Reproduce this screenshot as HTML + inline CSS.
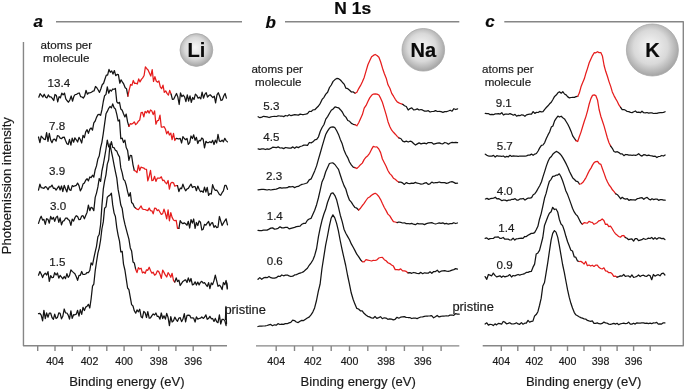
<!DOCTYPE html>
<html><head><meta charset="utf-8"><style>
html,body{margin:0;padding:0;background:#fff;}
body{width:685px;height:390px;overflow:hidden;}
svg{display:block;font-family:"Liberation Sans", sans-serif;will-change:transform;}
</style></head><body>
<svg width="685" height="390" viewBox="0 0 685 390">
<defs>
<radialGradient id="sg" cx="0.48" cy="0.46" r="0.55" fx="0.45" fy="0.42">
<stop offset="0" stop-color="#f6f6f6"/>
<stop offset="0.6" stop-color="#d9d9d9"/>
<stop offset="1" stop-color="#a2a2a2"/>
</radialGradient>
</defs>
<rect width="685" height="390" fill="#fff"/>

<g stroke="#868686" stroke-width="1.4" fill="none" stroke-linecap="butt">
<line x1="56" y1="21.8" x2="242" y2="21.8"/>
<line x1="285" y1="21.8" x2="459.3" y2="21.8"/>
<polyline points="504.3,21.8 683.3,21.8 683.3,345.8 482.7,345.8" stroke-linejoin="round"/>
<polyline points="23.45,41.9 23.45,345.8 227,345.8" stroke-linejoin="round"/>

<line x1="37.7" y1="345.9" x2="37.7" y2="351"/>
<line x1="55.0" y1="345.9" x2="55.0" y2="351"/>
<line x1="72.3" y1="345.9" x2="72.3" y2="351"/>
<line x1="89.5" y1="345.9" x2="89.5" y2="351"/>
<line x1="106.8" y1="345.9" x2="106.8" y2="351"/>
<line x1="124.1" y1="345.9" x2="124.1" y2="351"/>
<line x1="141.4" y1="345.9" x2="141.4" y2="351"/>
<line x1="158.7" y1="345.9" x2="158.7" y2="351"/>
<line x1="175.9" y1="345.9" x2="175.9" y2="351"/>
<line x1="193.2" y1="345.9" x2="193.2" y2="351"/>
<line x1="210.5" y1="345.9" x2="210.5" y2="351"/>
<line x1="256" y1="345.9" x2="459.3" y2="345.9"/>
<line x1="276.2" y1="345.9" x2="276.2" y2="351"/>
<line x1="294.5" y1="345.9" x2="294.5" y2="351"/>
<line x1="312.8" y1="345.9" x2="312.8" y2="351"/>
<line x1="331.2" y1="345.9" x2="331.2" y2="351"/>
<line x1="349.5" y1="345.9" x2="349.5" y2="351"/>
<line x1="367.8" y1="345.9" x2="367.8" y2="351"/>
<line x1="386.1" y1="345.9" x2="386.1" y2="351"/>
<line x1="404.4" y1="345.9" x2="404.4" y2="351"/>
<line x1="422.8" y1="345.9" x2="422.8" y2="351"/>
<line x1="441.1" y1="345.9" x2="441.1" y2="351"/>
<line x1="501.3" y1="345.9" x2="501.3" y2="351"/>
<line x1="517.8" y1="345.9" x2="517.8" y2="351"/>
<line x1="534.4" y1="345.9" x2="534.4" y2="351"/>
<line x1="550.9" y1="345.9" x2="550.9" y2="351"/>
<line x1="567.5" y1="345.9" x2="567.5" y2="351"/>
<line x1="584.0" y1="345.9" x2="584.0" y2="351"/>
<line x1="600.5" y1="345.9" x2="600.5" y2="351"/>
<line x1="617.1" y1="345.9" x2="617.1" y2="351"/>
<line x1="633.6" y1="345.9" x2="633.6" y2="351"/>
<line x1="650.2" y1="345.9" x2="650.2" y2="351"/>
</g>
<g fill="none" stroke-width="1.25" stroke-linejoin="round" stroke-linecap="round">
<polyline points="38.8,97.2 40.1,93.7 41.5,95.3 42.9,97.0 44.2,94.2 45.6,97.1 46.9,97.9 48.3,94.9 49.6,96.9 51.0,96.8 52.3,98.3 53.7,100.5 55.0,94.5 56.4,95.5 57.7,101.9 59.1,96.6 60.4,97.8 61.8,93.1 63.1,94.8 64.5,93.1 65.8,98.9 67.2,100.8 68.5,102.2 69.8,100.0 71.2,96.0 72.5,101.2 73.9,96.4 75.2,94.5 76.6,94.3 77.9,93.4 79.3,93.0 80.6,96.6 82.0,97.0 83.3,98.1 84.7,95.9 86.0,90.3 87.4,94.2 88.7,92.8 90.1,92.8 91.4,92.2 92.8,91.2 94.1,90.8 95.5,86.5 96.8,87.7 98.2,90.0 99.5,92.4 100.9,88.7 102.2,84.7 103.6,83.3 104.9,79.2 106.3,75.1 107.6,75.2 109.0,69.4 110.3,72.3 111.7,70.9 113.0,74.1 114.4,70.6 115.7,75.7 117.1,74.4 118.4,74.6 119.8,83.2 121.1,79.8 122.5,82.2 123.8,84.2 125.2,87.8 126.5,88.7 127.9,96.1" stroke="#141414"/>
<polyline points="127.9,96.1 129.2,89.8 130.6,84.5 131.9,85.3 133.3,80.5 134.6,83.5 136.0,83.2 137.3,84.0 138.7,78.9 140.0,81.9 141.4,79.4 142.7,77.9 144.1,75.5 145.4,66.9 146.8,68.7 148.1,70.0 149.5,73.3 150.8,76.0 152.2,69.6 153.5,81.5 154.9,76.7 156.2,81.0 157.6,82.2 158.9,80.9 160.3,86.9 161.6,88.7 163.0,85.2 164.3,92.4 165.7,90.9 167.0,93.4 168.4,95.1 169.7,90.4 171.1,94.1" stroke="#e61c1c"/>
<polyline points="171.1,94.1 172.4,99.4 173.8,99.1 175.1,96.2 176.5,93.5 177.8,96.9 179.2,104.5 180.5,92.9 181.9,96.7 183.2,95.1 184.6,96.8 185.9,101.7 187.3,94.9 188.6,101.0 190.0,95.8 191.3,102.3 192.7,97.5 194.0,99.5 195.4,94.1 196.7,95.4 198.1,98.2 199.4,97.2 200.8,98.8 202.1,92.2 203.5,98.2 204.8,94.4 206.2,92.7 207.5,97.1 208.9,95.5 210.2,94.8 211.6,96.3 212.9,97.6 214.3,96.1 215.6,102.9 217.0,94.9 218.3,92.7 219.7,96.3 221.0,100.5 222.4,99.9 223.7,96.0 225.1,93.5 226.4,98.1" stroke="#141414"/>
<polyline points="38.5,137.0 39.9,142.6 41.2,136.1 42.6,137.6 43.9,139.2 45.3,139.6 46.6,132.7 48.0,141.4 49.3,133.3 50.7,140.1 52.0,142.7 53.4,139.3 54.7,139.2 56.1,141.2 57.4,135.7 58.8,136.0 60.1,138.1 61.5,138.7 62.8,137.3 64.2,137.1 65.5,140.4 66.9,143.7 68.2,144.5 69.5,139.4 70.9,145.1 72.2,138.1 73.6,142.2 74.9,137.8 76.3,139.8 77.6,142.0 79.0,137.4 80.3,139.5 81.7,143.0 83.0,135.4 84.4,137.6 85.7,131.8 87.1,129.7 88.4,133.4 89.8,129.3 91.1,128.0 92.5,130.2 93.8,122.8 95.2,121.0 96.5,117.4 97.9,114.7 99.2,114.4 100.6,115.3 101.9,109.9 103.3,101.5 104.6,95.7 106.0,94.4 107.3,86.8 108.7,93.2 110.0,89.9 111.4,91.1 112.7,89.0 114.1,89.3 115.4,88.4 116.8,101.9 118.1,103.2 119.5,102.3 120.8,109.0 122.2,110.3 123.5,113.7 124.9,116.9 126.2,114.1 127.6,121.9 128.9,126.4" stroke="#141414"/>
<polyline points="128.9,126.4 130.3,123.7 131.6,124.1 133.0,123.3 134.3,121.9 135.7,124.6 137.0,123.4 138.4,121.2 139.7,120.1 141.1,112.6 142.4,112.3 143.8,116.8 145.1,111.4 146.5,112.9 147.8,110.6 149.2,113.1 150.5,110.0 151.9,111.1 153.2,114.6 154.6,110.9 155.9,124.2 157.3,120.7 158.6,120.4 160.0,115.2 161.3,127.0 162.7,127.0 164.0,126.6 165.4,129.0 166.7,133.8 168.1,131.2 169.4,135.0 170.8,133.1 172.1,139.7 173.5,133.3 174.8,140.5 176.2,138.4" stroke="#e61c1c"/>
<polyline points="176.2,138.4 177.5,138.7 178.9,139.0 180.2,138.4 181.6,143.0 182.9,136.6 184.3,138.5 185.6,139.7 187.0,138.5 188.3,144.4 189.7,142.6 191.0,136.0 192.4,138.5 193.7,134.8 195.1,140.3 196.4,137.3 197.8,143.5 199.1,140.4 200.5,140.8 201.8,138.0 203.2,139.3 204.5,147.9 205.9,141.3 207.2,142.7 208.6,142.6 209.9,141.7 211.3,142.7 212.6,140.3 214.0,144.5 215.3,140.1 216.7,143.0 218.0,134.4 219.4,141.2 220.7,141.5 222.1,140.2 223.4,141.8 224.8,138.3 226.1,140.6 227.5,141.9" stroke="#141414"/>
<polyline points="38.5,190.1 39.9,184.2 41.2,187.7 42.6,187.9 43.9,188.4 45.3,186.6 46.6,187.3 48.0,189.7 49.3,186.9 50.7,186.9 52.0,185.1 53.4,188.3 54.7,188.1 56.1,190.1 57.4,188.1 58.8,186.1 60.1,190.0 61.5,186.0 62.8,191.5 64.2,185.3 65.5,188.8 66.9,191.9 68.2,185.4 69.5,189.7 70.9,190.4 72.2,185.6 73.6,186.5 74.9,185.8 76.3,185.3 77.6,183.1 79.0,185.6 80.3,190.9 81.7,188.4 83.0,184.1 84.4,183.1 85.7,180.2 87.1,178.7 88.4,180.9 89.8,177.0 91.1,177.6 92.5,175.2 93.8,177.2 95.2,169.7 96.5,165.9 97.9,158.9 99.2,156.1 100.6,147.7 101.9,142.3 103.3,133.3 104.6,123.9 106.0,113.8 107.3,111.4 108.7,108.3 110.0,106.5 111.4,107.9 112.7,103.9 114.1,107.8 115.4,108.9 116.8,114.4 118.1,120.9 119.5,119.9 120.8,138.7 122.2,138.2 123.5,142.5 124.9,140.1 126.2,147.5 127.6,150.4 128.9,160.3 130.3,155.4 131.6,155.5 133.0,164.8 134.3,170.5" stroke="#141414"/>
<polyline points="134.3,170.5 135.7,171.1 137.0,172.6 138.4,165.2 139.7,170.5 141.1,167.1 142.4,167.7 143.8,168.1 145.1,169.2 146.5,169.4 147.8,180.9 149.2,176.3 150.5,170.3 151.9,180.6 153.2,180.2 154.6,176.3 155.9,181.4 157.3,178.2 158.6,178.1 160.0,178.1 161.3,176.8 162.7,180.6 164.0,180.2 165.4,182.6 166.7,183.8 168.1,180.5 169.4,189.1 170.8,183.2 172.1,182.3 173.5,182.8 174.8,186.2 176.2,185.5 177.5,185.6" stroke="#e61c1c"/>
<polyline points="177.5,185.6 178.9,191.6 180.2,188.2 181.6,188.7 182.9,184.2 184.3,188.1 185.6,190.8 187.0,189.0 188.3,188.4 189.7,186.2 191.0,184.1 192.4,187.5 193.7,186.7 195.1,186.6 196.4,190.7 197.8,186.1 199.1,189.3 200.5,191.8 201.8,191.0 203.2,192.3 204.5,187.2 205.9,192.0 207.2,187.4 208.6,195.4 209.9,193.5 211.3,194.1 212.6,184.6 214.0,188.6 215.3,190.3 216.7,190.2 218.0,192.0 219.4,194.5 220.7,195.3 222.1,192.7 223.4,190.8 224.8,185.4 226.1,185.4 227.5,189.3" stroke="#141414"/>
<polyline points="38.5,223.4 39.9,219.1 41.2,216.2 42.6,220.1 43.9,219.4 45.3,224.3 46.6,218.7 48.0,219.4 49.3,223.2 50.7,216.4 52.0,219.3 53.4,217.3 54.7,221.4 56.1,217.4 57.4,216.2 58.8,222.4 60.1,217.9 61.5,224.8 62.8,221.3 64.2,220.6 65.5,218.2 66.9,218.0 68.2,219.5 69.5,220.5 70.9,225.3 72.2,219.2 73.6,221.0 74.9,217.7 76.3,215.7 77.6,216.5 79.0,219.7 80.3,219.4 81.7,216.1 83.0,215.7 84.4,218.8 85.7,215.5 87.1,212.2 88.4,205.1 89.8,210.7 91.1,207.3 92.5,208.1 93.8,210.6 95.2,197.4 96.5,193.1 97.9,186.9 99.2,178.5 100.6,181.4 101.9,171.0 103.3,164.5 104.6,157.2 106.0,149.0 107.3,140.1 108.7,146.9 110.0,146.6 111.4,141.7 112.7,147.3 114.1,147.7 115.4,150.2 116.8,151.1 118.1,154.6 119.5,156.8 120.8,167.9 122.2,172.9 123.5,179.3 124.9,180.9 126.2,185.2 127.6,191.7 128.9,196.3 130.3,192.6 131.6,202.5 133.0,203.8 134.3,206.9 135.7,208.3" stroke="#141414"/>
<polyline points="135.7,208.3 137.0,209.1 138.4,209.7 139.7,207.8 141.1,205.9 142.4,209.0 143.8,209.4 145.1,209.5 146.5,210.2 147.8,210.6 149.2,208.0 150.5,210.6 151.9,210.8 153.2,213.8 154.6,208.1 155.9,208.4 157.3,210.6 158.6,209.8 160.0,212.2 161.3,214.4 162.7,213.7 164.0,209.2 165.4,213.5 166.7,218.9 168.1,209.9 169.4,220.8 170.8,212.7 172.1,217.4 173.5,220.0 174.8,220.7 176.2,220.4 177.5,228.4 178.9,228.4" stroke="#e61c1c"/>
<polyline points="178.9,228.4 180.2,220.7 181.6,222.8 182.9,223.6 184.3,222.9 185.6,223.7 187.0,225.2 188.3,221.3 189.7,228.0 191.0,219.6 192.4,223.1 193.7,219.0 195.1,228.4 196.4,222.5 197.8,225.5 199.1,220.9 200.5,222.3 201.8,230.0 203.2,229.1 204.5,224.4 205.9,225.1 207.2,223.1 208.6,221.5 209.9,225.8 211.3,223.2 212.6,222.7 214.0,227.3 215.3,225.7 216.7,227.6 218.0,227.2 219.4,216.5 220.7,220.9 222.1,225.5 223.4,223.1 224.8,220.8 226.1,218.8 227.5,224.8" stroke="#141414"/>
<polyline points="38.5,275.2 39.9,271.6 41.2,274.0 42.6,277.6 43.9,274.6 45.3,273.2 46.6,275.0 48.0,271.7 49.3,281.3 50.7,275.7 52.0,277.6 53.4,277.3 54.7,272.7 56.1,275.0 57.4,273.0 58.8,278.2 60.1,275.4 61.5,277.1 62.8,278.9 64.2,276.5 65.5,278.6 66.9,273.7 68.2,277.4 69.5,275.7 70.9,269.8 72.2,271.4 73.6,272.6 74.9,273.8 76.3,276.7 77.6,280.3 79.0,275.3 80.3,275.3 81.7,271.5 83.0,274.5 84.4,274.4 85.7,274.0 87.1,272.5 88.4,272.7 89.8,270.5 91.1,262.8 92.5,265.0 93.8,258.3 95.2,251.8 96.5,246.3 97.9,236.7 99.2,234.5 100.6,224.5 101.9,205.9 103.3,189.1 104.6,181.1 106.0,174.6 107.3,164.1 108.7,159.8 110.0,144.0 111.4,151.5 112.7,157.6 114.1,165.2 115.4,171.6 116.8,178.1 118.1,189.4 119.5,196.9 120.8,205.1 122.2,208.6 123.5,217.8 124.9,224.2 126.2,229.2 127.6,234.4 128.9,239.1 130.3,247.9 131.6,250.9 133.0,261.9 134.3,262.9 135.7,269.4" stroke="#141414"/>
<polyline points="135.7,269.4 137.0,272.6 138.4,267.7 139.7,269.0 141.1,268.2 142.4,272.9 143.8,271.9 145.1,273.4 146.5,269.8 147.8,270.3 149.2,267.2 150.5,270.5 151.9,273.2 153.2,272.2 154.6,275.2 155.9,274.2 157.3,270.9 158.6,271.4 160.0,274.2 161.3,278.3 162.7,270.1 164.0,272.4 165.4,275.2 166.7,277.0 168.1,272.7 169.4,274.5 170.8,277.3 172.1,273.3 173.5,280.5 174.8,282.0" stroke="#e61c1c"/>
<polyline points="174.8,282.0 176.2,277.9 177.5,281.5 178.9,280.1 180.2,285.5 181.6,283.3 182.9,281.4 184.3,280.4 185.6,279.8 187.0,282.5 188.3,277.9 189.7,281.8 191.0,278.5 192.4,284.8 193.7,284.4 195.1,281.8 196.4,285.1 197.8,282.1 199.1,284.9 200.5,282.2 201.8,281.4 203.2,283.2 204.5,282.6 205.9,284.7 207.2,286.5 208.6,282.7 209.9,288.6 211.3,283.0 212.6,284.6 214.0,280.6 215.3,275.1 216.7,280.8 218.0,286.4 219.4,285.1 220.7,286.5 222.1,289.6 223.4,282.5 224.8,284.7 226.1,280.5 227.5,288.1" stroke="#141414"/>
<polyline points="38.5,313.7 39.9,313.4 41.2,315.2 42.6,320.9 43.9,310.3 45.3,318.6 46.6,312.9 48.0,317.2 49.3,313.1 50.7,313.2 52.0,317.5 53.4,319.3 54.7,314.2 56.1,318.5 57.4,317.6 58.8,312.8 60.1,313.4 61.5,318.8 62.8,316.3 64.2,309.0 65.5,312.9 66.9,313.0 68.2,315.1 69.5,319.1 70.9,310.9 72.2,318.3 73.6,314.7 74.9,314.8 76.3,314.1 77.6,310.3 79.0,316.2 80.3,309.6 81.7,314.4 83.0,307.3 84.4,310.5 85.7,307.1 87.1,306.2 88.4,304.3 89.8,308.0 91.1,299.0 92.5,286.2 93.8,284.2 95.2,270.8 96.5,262.0 97.9,253.2 99.2,248.1 100.6,240.0 101.9,229.0 103.3,221.9 104.6,208.3 106.0,206.9 107.3,197.2 108.7,195.9 110.0,195.1 111.4,193.2 112.7,204.9 114.1,213.1 115.4,216.5 116.8,227.8 118.1,235.1 119.5,241.1 120.8,251.9 122.2,251.3 123.5,264.1 124.9,270.0 126.2,278.7 127.6,288.0 128.9,289.7 130.3,297.3 131.6,304.6 133.0,306.0 134.3,310.8 135.7,313.2 137.0,309.9 138.4,311.8 139.7,309.2 141.1,316.7 142.4,317.8 143.8,311.4 145.1,312.6 146.5,317.5 147.8,311.7 149.2,318.2 150.5,317.8 151.9,315.6 153.2,314.0 154.6,315.0 155.9,313.0 157.3,316.4 158.6,316.4 160.0,319.1 161.3,313.0 162.7,318.5 164.0,315.8 165.4,319.1 166.7,313.4 168.1,317.5 169.4,325.6 170.8,316.7 172.1,322.0 173.5,320.8 174.8,317.1 176.2,319.6 177.5,321.3 178.9,318.0 180.2,317.7 181.6,321.6 182.9,319.3 184.3,313.6 185.6,321.8 187.0,315.3 188.3,315.2 189.7,315.4 191.0,318.0 192.4,317.8 193.7,318.2 195.1,322.0 196.4,316.8 197.8,319.1 199.1,318.5 200.5,318.2 201.8,316.9 203.2,318.4 204.5,317.3 205.9,314.9 207.2,319.3 208.6,318.4 209.9,316.3 211.3,318.8 212.6,318.5 214.0,321.4 215.3,318.4 216.7,321.7 218.0,322.7 219.4,314.9 220.7,324.0 222.1,319.3 223.4,319.4 224.8,320.6 226.1,325.6" stroke="#141414"/>
<polyline points="258.1,116.7 259.9,117.7 261.8,117.1 263.6,116.3 265.4,116.6 267.2,116.9 269.1,117.5 270.9,116.8 272.7,116.5 274.6,116.4 276.4,116.5 278.2,115.8 280.1,116.0 281.9,116.0 283.7,116.6 285.5,115.5 287.4,116.0 289.2,114.7 291.0,115.7 292.9,115.2 294.7,114.7 296.5,114.9 298.4,115.1 300.2,114.1 302.0,114.5 303.8,114.5 305.7,114.1 307.5,113.6 309.3,111.4 311.2,111.5 313.0,109.9 314.8,109.7 316.7,107.8 318.5,106.0 320.3,103.3 322.1,99.4 324.0,97.3 325.8,94.1 327.6,92.3 329.5,87.5 331.3,85.0 333.1,81.4 335.0,79.6 336.8,78.4 338.6,78.7 340.4,80.0 342.3,82.2 344.1,84.1 345.9,88.2 347.8,88.7 349.6,90.2 351.4,92.0 353.3,91.9 355.1,93.2" stroke="#141414"/>
<polyline points="355.1,93.2 356.9,92.3 358.7,88.6 360.6,85.4 362.4,81.7 364.2,77.4 366.1,70.9 367.9,64.8 369.7,60.8 371.6,56.8 373.4,55.4 375.2,54.5 377.0,55.5 378.9,57.2 380.7,62.0 382.5,68.2 384.4,73.7 386.2,78.2 388.0,84.8 389.9,88.3 391.7,93.4 393.5,96.2 395.3,99.3 397.2,101.9 399.0,102.9 400.8,103.7 402.7,104.3" stroke="#e61c1c"/>
<polyline points="402.7,104.3 404.5,105.7 406.3,106.5 408.2,110.0 410.0,108.6 411.8,107.8 413.6,109.9 415.5,109.6 417.3,108.9 419.1,110.0 421.0,109.5 422.8,110.2 424.6,111.1 426.5,111.1 428.3,110.7 430.1,112.0 431.9,111.5 433.8,111.3 435.6,110.6 437.4,111.5 439.3,111.4 441.1,111.7 442.9,112.3 444.8,111.6 446.6,111.6 448.4,111.0 450.2,110.2 452.1,111.2 453.9,108.7 455.7,109.5 457.6,108.8" stroke="#141414"/>
<polyline points="258.1,148.9 259.9,149.3 261.8,148.8 263.6,148.8 265.4,149.5 267.2,148.8 269.1,149.3 270.9,148.4 272.7,147.2 274.6,147.3 276.4,147.6 278.2,146.9 280.1,148.0 281.9,147.9 283.7,148.6 285.5,147.5 287.4,147.8 289.2,148.2 291.0,148.1 292.9,146.9 294.7,148.3 296.5,146.8 298.4,147.6 300.2,146.5 302.0,146.0 303.8,145.1 305.7,145.1 307.5,145.3 309.3,142.5 311.2,142.9 313.0,141.8 314.8,139.8 316.7,139.4 318.5,136.8 320.3,131.2 322.1,127.5 324.0,124.5 325.8,119.1 327.6,116.6 329.5,113.3 331.3,110.3 333.1,109.0 335.0,106.9 336.8,107.4 338.6,107.8 340.4,109.7 342.3,112.0 344.1,115.5 345.9,117.1 347.8,120.5 349.6,121.3 351.4,123.4 353.3,124.3 355.1,124.7" stroke="#141414"/>
<polyline points="355.1,124.7 356.9,125.8 358.7,122.7 360.6,118.5 362.4,114.6 364.2,108.2 366.1,105.4 367.9,101.5 369.7,97.9 371.6,95.3 373.4,94.1 375.2,93.8 377.0,94.1 378.9,95.0 380.7,98.4 382.5,102.6 384.4,108.9 386.2,114.9 388.0,121.7 389.9,126.8 391.7,130.2 393.5,132.3 395.3,134.2 397.2,136.4 399.0,138.0" stroke="#e61c1c"/>
<polyline points="399.0,138.0 400.8,138.5 402.7,141.2 404.5,141.9 406.3,141.2 408.2,142.0 410.0,141.2 411.8,141.7 413.6,143.5 415.5,145.0 417.3,143.9 419.1,142.9 421.0,143.9 422.8,143.3 424.6,143.2 426.5,143.8 428.3,142.5 430.1,142.5 431.9,142.7 433.8,144.2 435.6,143.6 437.4,143.1 439.3,142.9 441.1,143.6 442.9,143.8 444.8,142.5 446.6,143.0 448.4,144.2 450.2,143.0 452.1,142.3 453.9,142.6 455.7,142.4 457.6,142.7" stroke="#141414"/>
<polyline points="258.0,189.8 259.8,189.6 261.7,189.4 263.5,189.4 265.3,189.6 267.1,190.0 269.0,189.5 270.8,190.0 272.6,189.6 274.5,189.3 276.3,189.1 278.1,188.4 280.0,187.6 281.8,188.2 283.6,187.8 285.4,187.8 287.3,187.7 289.1,186.6 290.9,186.9 292.8,186.5 294.6,187.6 296.4,186.7 298.3,186.4 300.1,185.2 301.9,184.4 303.7,184.0 305.6,183.5 307.4,182.7 309.2,179.9 311.1,178.9 312.9,174.9 314.7,170.9 316.6,165.9 318.4,159.4 320.2,153.3 322.0,146.9 323.9,140.4 325.7,134.5 327.5,131.1 329.4,128.3 331.2,127.1 333.0,126.9 334.9,127.7 336.7,130.7 338.5,134.4 340.3,139.4 342.2,143.8 344.0,150.0 345.8,154.3 347.7,157.6 349.5,162.0 351.3,164.9 353.2,167.2 355.0,167.6" stroke="#141414"/>
<polyline points="355.0,167.6 356.8,168.5 358.6,166.9 360.5,164.7 362.3,163.1 364.1,159.6 366.0,157.2 367.8,155.7 369.6,153.3 371.5,149.4 373.3,146.4 375.1,147.0 376.9,146.9 378.8,149.0 380.6,152.6 382.4,159.0 384.3,162.7 386.1,166.3 387.9,170.5 389.8,173.6 391.6,175.4 393.4,178.2 395.2,179.3 397.1,180.9 398.9,182.2" stroke="#e61c1c"/>
<polyline points="398.9,182.2 400.7,182.1 402.6,182.9 404.4,184.4 406.2,182.6 408.1,183.4 409.9,183.7 411.7,183.1 413.5,183.4 415.4,182.4 417.2,183.2 419.0,183.5 420.9,184.1 422.7,184.0 424.5,183.1 426.4,182.7 428.2,184.4 430.0,183.8 431.8,182.1 433.7,183.0 435.5,182.6 437.3,182.7 439.2,182.0 441.0,182.7 442.8,182.6 444.7,182.7 446.5,183.4 448.3,182.9 450.1,182.0 452.0,181.7 453.8,182.4 455.6,183.4 457.5,183.2" stroke="#141414"/>
<polyline points="258.0,230.4 259.8,230.7 261.7,230.6 263.5,230.2 265.3,230.0 267.1,230.1 269.0,229.1 270.8,228.1 272.6,227.9 274.5,229.1 276.3,228.8 278.1,228.3 280.0,226.8 281.8,227.9 283.6,227.9 285.4,227.3 287.3,227.3 289.1,228.9 290.9,228.3 292.8,227.8 294.6,227.3 296.4,226.6 298.3,226.3 300.1,226.2 301.9,224.2 303.7,223.4 305.6,223.3 307.4,220.3 309.2,219.0 311.1,218.3 312.9,214.2 314.7,210.2 316.6,204.7 318.4,198.0 320.2,190.2 322.0,181.9 323.9,177.7 325.7,171.8 327.5,167.8 329.4,163.5 331.2,163.0 333.0,162.9 334.9,164.5 336.7,167.0 338.5,169.4 340.3,175.0 342.2,180.7 344.0,185.6 345.8,189.0 347.7,195.6 349.5,200.2 351.3,202.2 353.2,205.1 355.0,207.5 356.8,208.2 358.6,210.0" stroke="#141414"/>
<polyline points="358.6,210.0 360.5,208.2 362.3,205.7 364.1,203.3 366.0,200.5 367.8,198.0 369.6,197.0 371.5,195.2 373.3,194.1 375.1,193.2 376.9,194.3 378.8,196.5 380.6,199.6 382.4,203.6 384.3,207.5 386.1,210.6 387.9,214.1 389.8,215.9 391.6,218.9 393.4,221.6 395.2,222.0 397.1,222.6" stroke="#e61c1c"/>
<polyline points="397.1,222.6 398.9,222.0 400.7,222.4 402.6,223.0 404.4,222.8 406.2,223.6 408.1,223.5 409.9,223.9 411.7,223.4 413.5,224.2 415.4,224.7 417.2,223.4 419.0,223.9 420.9,223.9 422.7,223.9 424.5,224.6 426.4,223.6 428.2,223.2 430.0,222.9 431.8,222.7 433.7,223.5 435.5,224.0 437.3,223.5 439.2,222.9 441.0,223.3 442.8,222.8 444.7,223.9 446.5,223.4 448.3,224.2 450.1,223.7 452.0,223.6 453.8,222.7 455.6,223.5 457.5,223.0" stroke="#141414"/>
<polyline points="258.0,279.3 259.8,277.6 261.7,279.3 263.5,277.9 265.3,277.3 267.1,277.7 269.0,276.5 270.8,277.7 272.6,278.1 274.5,278.2 276.3,277.7 278.1,276.2 280.0,276.5 281.8,275.0 283.6,275.8 285.4,275.2 287.3,275.0 289.1,275.9 290.9,276.5 292.8,276.2 294.6,274.9 296.4,274.6 298.3,273.7 300.1,273.1 301.9,272.5 303.7,271.6 305.6,269.8 307.4,268.3 309.2,265.3 311.1,262.8 312.9,260.0 314.7,255.4 316.6,248.5 318.4,236.8 320.2,227.9 322.0,220.3 323.9,214.0 325.7,209.3 327.5,202.5 329.4,197.6 331.2,193.3 333.0,192.9 334.9,195.6 336.7,200.1 338.5,207.3 340.3,215.2 342.2,221.6 344.0,229.2 345.8,233.2 347.7,236.6 349.5,239.7 351.3,243.9 353.2,247.3 355.0,250.6 356.8,254.2 358.6,256.7 360.5,259.7 362.3,261.6" stroke="#141414"/>
<polyline points="362.3,261.6 364.1,261.8 366.0,259.7 367.8,260.1 369.6,260.5 371.5,261.0 373.3,260.4 375.1,260.5 376.9,259.9 378.8,258.0 380.6,257.5 382.4,257.4 384.3,259.7 386.1,260.8 387.9,262.7 389.8,263.6 391.6,264.9 393.4,266.1 395.2,269.6 397.1,269.6 398.9,269.9 400.7,268.9 402.6,270.9 404.4,270.8 406.2,271.4 408.1,272.9" stroke="#e61c1c"/>
<polyline points="408.1,272.9 409.9,272.6 411.7,273.3 413.5,272.5 415.4,272.8 417.2,273.5 419.0,273.6 420.9,272.4 422.7,273.7 424.5,272.8 426.4,273.1 428.2,273.2 430.0,271.8 431.8,273.3 433.7,271.5 435.5,271.5 437.3,270.2 439.2,272.3 441.0,271.2 442.8,270.8 444.7,270.7 446.5,271.2 448.3,271.4 450.1,270.9 452.0,270.1 453.8,269.6 455.6,268.6 457.5,269.1" stroke="#141414"/>
<polyline points="257.9,326.5 259.7,326.2 261.6,326.1 263.4,326.0 265.2,325.9 267.0,325.5 268.9,324.9 270.7,324.4 272.5,325.7 274.4,324.8 276.2,325.2 278.0,323.7 279.9,324.5 281.7,324.2 283.5,324.4 285.3,323.6 287.2,323.7 289.0,322.9 290.8,322.4 292.7,320.2 294.5,320.6 296.3,322.0 298.2,322.6 300.0,321.3 301.8,320.4 303.6,320.6 305.5,319.2 307.3,318.0 309.1,317.1 311.0,314.9 312.8,312.1 314.6,307.9 316.5,300.5 318.3,291.3 320.1,284.2 321.9,269.0 323.8,256.9 325.6,245.4 327.4,236.5 329.3,226.3 331.1,218.3 332.9,214.9 334.8,217.9 336.6,223.4 338.4,230.8 340.2,240.5 342.1,249.7 343.9,257.7 345.7,265.5 347.6,275.5 349.4,283.9 351.2,292.8 353.1,299.2 354.9,304.1 356.7,308.3 358.5,309.0 360.4,310.8 362.2,310.8 364.0,313.3 365.9,315.0 367.7,316.3 369.5,316.9 371.4,317.9 373.2,318.2 375.0,316.5 376.8,318.4 378.7,317.6 380.5,316.7 382.3,318.7 384.2,317.8 386.0,318.1 387.8,319.3 389.7,318.9 391.5,319.2 393.3,319.9 395.1,319.3 397.0,317.3 398.8,318.2 400.6,317.2 402.5,316.9 404.3,316.6 406.1,317.4 408.0,317.5 409.8,317.5 411.6,318.5 413.4,318.2 415.3,318.0 417.1,318.6 418.9,317.8 420.8,317.0 422.6,316.9 424.4,316.4 426.3,316.0 428.1,316.0 429.9,315.9 431.7,315.7 433.6,317.8 435.4,316.8 437.2,315.4 439.1,316.9 440.9,316.3 442.7,316.0 444.6,316.0 446.4,315.9 448.2,316.0 450.0,315.1 451.9,315.0 453.7,315.4 455.5,313.7 457.4,314.1 459.2,314.2" stroke="#141414"/>
<polyline points="485.3,113.4 486.9,113.6 488.6,113.7 490.2,114.6 491.9,114.4 493.5,114.7 495.2,113.9 496.8,113.9 498.5,113.7 500.1,114.1 501.8,112.7 503.4,115.0 505.1,114.1 506.7,114.0 508.4,114.3 510.0,113.6 511.7,114.3 513.3,115.2 515.0,114.4 516.6,116.2 518.3,115.4 519.9,115.7 521.6,114.8 523.2,115.1 524.9,116.3 526.5,114.9 528.2,114.4 529.8,114.2 531.5,114.1 533.1,111.6 534.8,113.4 536.4,112.4 538.1,112.5 539.7,111.4 541.4,111.9 543.0,111.6 544.7,109.3 546.3,107.5 548.0,105.8 549.6,103.8 551.3,102.2 552.9,99.5 554.6,96.4 556.2,95.1 557.9,92.8 559.5,91.8 561.2,93.2 562.8,91.7 564.5,94.0 566.1,94.9 567.8,96.9 569.4,97.9 571.1,97.5 572.7,97.4 574.4,97.3 576.0,96.7 577.7,96.4" stroke="#141414"/>
<polyline points="577.7,96.4 579.3,93.1 581.0,86.8 582.6,82.8 584.3,78.8 585.9,73.2 587.6,68.1 589.2,62.7 590.9,58.9 592.5,55.6 594.2,52.7 595.8,52.8 597.5,51.7 599.1,52.6 600.8,52.5 602.4,55.9 604.1,65.5 605.7,71.3 607.4,76.3 609.0,81.6 610.7,86.4 612.3,91.9 614.0,95.6 615.6,98.6 617.3,101.5 618.9,104.9 620.6,107.3" stroke="#e61c1c"/>
<polyline points="620.6,107.3 622.2,109.6 623.9,109.5 625.5,110.3 627.2,111.5 628.8,111.7 630.5,112.4 632.1,112.6 633.8,111.7 635.4,111.0 637.1,112.4 638.7,112.1 640.4,112.7 642.0,111.2 643.7,112.7 645.3,112.8 647.0,112.5 648.6,113.1 650.3,112.9 651.9,112.9 653.6,113.5 655.2,113.4 656.9,113.3 658.5,112.8 660.2,112.6 661.8,112.7 663.5,112.4 665.1,111.7" stroke="#141414"/>
<polyline points="485.3,154.2 486.9,155.3 488.6,156.0 490.2,156.0 491.9,156.1 493.5,155.4 495.2,157.0 496.8,155.7 498.5,156.1 500.1,156.2 501.8,156.3 503.4,156.0 505.1,157.2 506.7,156.3 508.4,156.8 510.0,155.3 511.7,156.4 513.3,155.9 515.0,156.2 516.6,156.1 518.3,156.3 519.9,156.0 521.6,156.1 523.2,156.2 524.9,156.2 526.5,155.9 528.2,155.2 529.8,155.1 531.5,154.1 533.1,155.3 534.8,154.1 536.4,153.5 538.1,151.0 539.7,147.9 541.4,145.4 543.0,145.0 544.7,142.6 546.3,138.5 548.0,134.9 549.6,132.0 551.3,127.1 552.9,126.0 554.6,120.9 556.2,118.4 557.9,116.1 559.5,117.0 561.2,116.2 562.8,117.7 564.5,118.9 566.1,121.5 567.8,124.3 569.4,127.5 571.1,131.4 572.7,135.9 574.4,138.4 576.0,140.6" stroke="#141414"/>
<polyline points="576.0,140.6 577.7,141.5 579.3,136.8 581.0,132.1 582.6,126.7 584.3,121.3 585.9,116.6 587.6,110.6 589.2,104.0 590.9,98.6 592.5,95.4 594.2,94.9 595.8,95.6 597.5,99.9 599.1,109.5 600.8,116.2 602.4,121.0 604.1,126.1 605.7,131.9 607.4,138.0 609.0,142.8 610.7,146.1" stroke="#e61c1c"/>
<polyline points="610.7,146.1 612.3,148.3 614.0,151.5 615.6,152.1 617.3,151.7 618.9,152.6 620.6,153.9 622.2,153.8 623.9,155.7 625.5,154.5 627.2,154.7 628.8,155.1 630.5,155.0 632.1,155.4 633.8,155.0 635.4,155.3 637.1,154.8 638.7,153.7 640.4,155.4 642.0,156.1 643.7,154.7 645.3,154.9 647.0,155.7 648.6,155.2 650.3,155.7 651.9,155.8 653.6,156.4 655.2,156.2 656.9,157.5 658.5,156.5 660.2,156.3 661.8,155.5 663.5,156.0 665.1,155.0" stroke="#141414"/>
<polyline points="485.4,199.0 487.0,198.4 488.7,199.4 490.3,198.7 492.0,198.3 493.6,198.1 495.3,197.2 496.9,198.8 498.6,198.6 500.2,199.5 501.9,200.7 503.5,200.0 505.2,200.2 506.8,200.8 508.5,200.1 510.1,200.2 511.8,199.3 513.4,199.3 515.1,198.7 516.7,200.0 518.4,200.0 520.0,198.9 521.7,198.9 523.3,198.5 525.0,200.1 526.6,198.9 528.3,198.0 529.9,198.1 531.6,197.6 533.2,194.7 534.9,193.7 536.5,191.4 538.2,188.3 539.8,185.5 541.5,181.8 543.1,176.4 544.8,171.1 546.4,165.9 548.1,161.2 549.7,158.0 551.4,156.5 553.0,153.9 554.7,152.5 556.3,151.4 558.0,152.3 559.6,153.5 561.3,155.4 562.9,157.9 564.6,160.9 566.2,163.9 567.9,167.4 569.5,171.5 571.2,174.9 572.8,178.0 574.5,179.5 576.1,181.2 577.8,181.7 579.4,184.0" stroke="#141414"/>
<polyline points="579.4,184.0 581.1,183.8 582.7,182.6 584.4,180.2 586.0,177.6 587.7,173.9 589.3,170.7 591.0,168.1 592.6,164.9 594.3,162.3 595.9,161.7 597.6,161.4 599.2,163.7 600.9,164.4 602.5,169.0 604.2,173.6 605.8,178.2 607.5,182.0 609.1,185.0 610.8,187.2 612.4,189.8 614.1,191.6 615.7,193.8" stroke="#e61c1c"/>
<polyline points="615.7,193.8 617.4,194.7 619.0,196.6 620.7,198.8 622.3,197.3 624.0,198.7 625.6,199.2 627.3,198.7 628.9,200.3 630.6,199.6 632.2,199.9 633.9,199.8 635.5,200.1 637.2,198.7 638.8,198.4 640.5,197.9 642.1,197.7 643.8,199.3 645.4,198.0 647.1,197.4 648.7,199.0 650.4,199.9 652.0,198.7 653.7,199.6 655.3,199.2 657.0,199.1 658.6,200.3 660.3,199.7 661.9,199.7 663.6,200.2 665.2,200.2" stroke="#141414"/>
<polyline points="485.1,238.3 486.8,237.9 488.4,239.4 490.0,238.6 491.7,238.5 493.3,238.4 495.0,237.1 496.6,237.1 498.3,236.9 499.9,238.4 501.6,238.3 503.2,237.5 504.9,239.2 506.5,239.2 508.2,239.1 509.8,240.0 511.5,239.8 513.1,238.1 514.8,240.1 516.4,238.8 518.1,238.6 519.7,238.3 521.4,238.2 523.0,238.4 524.7,236.5 526.3,236.6 528.0,235.2 529.6,234.4 531.3,233.4 532.9,233.3 534.6,232.6 536.2,229.8 537.9,226.3 539.5,219.2 541.2,213.6 542.8,206.3 544.5,198.3 546.1,193.4 547.8,186.6 549.4,181.3 551.1,179.3 552.7,176.4 554.4,176.2 556.0,175.2 557.7,175.1 559.3,173.8 561.0,176.7 562.6,180.7 564.3,185.9 565.9,191.0 567.6,194.6 569.2,198.9 570.9,203.6 572.5,208.2 574.2,211.9 575.8,214.4 577.5,216.0 579.1,219.2 580.8,222.6 582.4,224.2" stroke="#141414"/>
<polyline points="582.4,224.2 584.1,222.6 585.7,222.9 587.4,223.1 589.0,221.3 590.7,222.1 592.3,222.4 594.0,224.3 595.6,223.5 597.3,222.4 598.9,220.8 600.6,220.3 602.2,219.0 603.9,220.4 605.5,224.4 607.2,224.2 608.8,226.6 610.5,226.1 612.1,228.5 613.8,231.5 615.4,233.7 617.1,235.1 618.7,236.5 620.4,237.2 622.0,235.7 623.7,235.5 625.3,237.5" stroke="#e61c1c"/>
<polyline points="625.3,237.5 627.0,238.3 628.6,239.7 630.3,239.2 631.9,238.9 633.6,241.1 635.2,238.6 636.9,238.7 638.5,240.7 640.2,240.2 641.8,239.7 643.5,238.5 645.1,239.3 646.8,239.0 648.4,238.1 650.1,238.5 651.7,237.4 653.4,239.2 655.0,237.6 656.7,239.2 658.3,237.9 660.0,237.9 661.6,238.6 663.3,238.3 664.9,239.5" stroke="#141414"/>
<polyline points="485.1,276.6 486.8,279.3 488.4,274.5 490.0,275.1 491.7,275.8 493.3,273.1 495.0,275.4 496.6,276.9 498.3,276.3 499.9,275.8 501.6,277.3 503.2,276.0 504.9,276.9 506.5,276.3 508.2,275.8 509.8,274.6 511.5,277.0 513.1,275.5 514.8,275.8 516.4,275.2 518.1,274.5 519.7,275.1 521.4,274.5 523.0,274.2 524.7,273.6 526.3,272.4 528.0,272.3 529.6,271.7 531.3,271.5 532.9,267.4 534.6,264.1 536.2,254.0 537.9,252.9 539.5,250.4 541.2,243.9 542.8,237.5 544.5,225.4 546.1,221.3 547.8,216.7 549.4,213.2 551.1,211.7 552.7,207.3 554.4,209.5 556.0,209.0 557.7,212.0 559.3,219.2 561.0,224.0 562.6,225.6 564.3,230.5 565.9,236.3 567.6,241.7 569.2,245.8 570.9,250.2 572.5,251.0 574.2,256.8 575.8,257.2 577.5,260.9 579.1,261.5" stroke="#141414"/>
<polyline points="579.1,261.5 580.8,261.4 582.4,262.4 584.1,264.0 585.7,261.5 587.4,265.7 589.0,265.0 590.7,266.0 592.3,265.2 594.0,266.4 595.6,265.2 597.3,265.1 598.9,267.3 600.6,268.5 602.2,268.9 603.9,267.8 605.5,270.9 607.2,271.2 608.8,272.7 610.5,272.6 612.1,273.8 613.8,276.3 615.4,276.1 617.1,277.2" stroke="#e61c1c"/>
<polyline points="617.1,277.2 618.7,276.6 620.4,275.9 622.0,276.1 623.7,274.5 625.3,276.4 627.0,276.0 628.6,275.9 630.3,277.2 631.9,274.9 633.6,277.3 635.2,277.0 636.9,276.4 638.5,275.0 640.2,276.5 641.8,275.5 643.5,275.2 645.1,276.1 646.8,276.3 648.4,275.0 650.1,275.7 651.7,279.7 653.4,274.5 655.0,276.1 656.7,275.2 658.3,274.7 660.0,275.8 661.6,273.6 663.3,273.1 664.9,275.0" stroke="#141414"/>
<polyline points="485.1,324.0 486.8,322.8 488.4,325.1 490.0,324.4 491.7,324.5 493.3,325.6 495.0,323.9 496.6,324.9 498.3,323.4 499.9,323.6 501.6,324.2 503.2,321.5 504.9,322.2 506.5,323.8 508.2,323.4 509.8,322.7 511.5,323.9 513.1,324.0 514.8,323.7 516.4,322.8 518.1,323.9 519.7,324.3 521.4,322.6 523.0,324.2 524.7,323.2 526.3,323.1 528.0,320.4 529.6,322.2 531.3,321.4 532.9,321.1 534.6,315.9 536.2,314.6 537.9,311.7 539.5,305.5 541.2,298.2 542.8,286.0 544.5,282.5 546.1,272.9 547.8,262.3 549.4,251.4 551.1,240.1 552.7,233.3 554.4,230.6 556.0,232.1 557.7,237.1 559.3,245.3 561.0,255.2 562.6,264.5 564.3,272.4 565.9,281.0 567.6,289.9 569.2,297.2 570.9,303.3 572.5,308.0 574.2,312.3 575.8,314.8 577.5,315.7 579.1,316.7 580.8,317.6 582.4,318.2 584.1,318.9 585.7,319.1 587.4,320.4 589.0,320.9 590.7,321.3 592.3,320.8 594.0,323.3 595.6,323.3 597.3,322.9 598.9,323.7 600.6,323.8 602.2,323.4 603.9,322.1 605.5,322.9 607.2,323.2 608.8,324.1 610.5,324.3 612.1,323.9 613.8,323.3 615.4,324.1 617.1,323.3 618.7,324.7 620.4,323.8 622.0,323.5 623.7,323.2 625.3,323.6 627.0,323.5 628.6,322.1 630.3,324.1 631.9,324.1 633.6,323.2 635.2,324.1 636.9,322.8 638.5,323.1 640.2,323.1 641.8,322.9 643.5,322.8 645.1,323.4 646.8,323.1 648.4,323.6 650.1,323.2 651.7,323.7 653.4,322.9 655.0,323.0 656.7,322.3 658.3,324.1 660.0,323.9 661.6,324.1 663.3,322.8 664.9,322.9" stroke="#141414"/>
<polyline points="225.4,319.5 226.0,306.5 226.5,324" stroke="#141414"/>
<polyline points="226.8,283 227.2,289" stroke="#141414"/>
</g>
<text x="38.3" y="26.6" font-size="17.00" text-anchor="middle" font-weight="bold" font-style="italic" fill="#0a0a0a" stroke="#0a0a0a" stroke-width="0.18" >a</text>
<text x="270.8" y="28.4" font-size="17.00" text-anchor="middle" font-weight="bold" font-style="italic" fill="#0a0a0a" stroke="#0a0a0a" stroke-width="0.18" >b</text>
<text x="490.1" y="26.9" font-size="17.00" text-anchor="middle" font-weight="bold" font-style="italic" fill="#0a0a0a" stroke="#0a0a0a" stroke-width="0.18" >c</text>
<text x="352.7" y="14.0" font-size="17.40" text-anchor="middle" font-weight="bold" font-style="normal" fill="#0a0a0a" stroke="#0a0a0a" stroke-width="0.18" >N 1s</text>
<text x="66.4" y="49.0" font-size="11.60" text-anchor="middle" font-weight="normal" font-style="normal" fill="#1a1a1a" stroke="#1a1a1a" stroke-width="0.18" >atoms per</text>
<text x="66.2" y="61.9" font-size="11.60" text-anchor="middle" font-weight="normal" font-style="normal" fill="#1a1a1a" stroke="#1a1a1a" stroke-width="0.18" >molecule</text>
<text x="277.2" y="73.0" font-size="11.60" text-anchor="middle" font-weight="normal" font-style="normal" fill="#1a1a1a" stroke="#1a1a1a" stroke-width="0.18" >atoms per</text>
<text x="278.3" y="85.5" font-size="11.60" text-anchor="middle" font-weight="normal" font-style="normal" fill="#1a1a1a" stroke="#1a1a1a" stroke-width="0.18" >molecule</text>
<text x="507.9" y="72.8" font-size="11.60" text-anchor="middle" font-weight="normal" font-style="normal" fill="#1a1a1a" stroke="#1a1a1a" stroke-width="0.18" >atoms per</text>
<text x="507.9" y="85.5" font-size="11.60" text-anchor="middle" font-weight="normal" font-style="normal" fill="#1a1a1a" stroke="#1a1a1a" stroke-width="0.18" >molecule</text>
<text x="47.6" y="86.7" font-size="11.60" text-anchor="start" font-weight="normal" font-style="normal" fill="#1a1a1a" stroke="#1a1a1a" stroke-width="0.18" >13.4</text>
<text x="49.0" y="130.3" font-size="11.60" text-anchor="start" font-weight="normal" font-style="normal" fill="#1a1a1a" stroke="#1a1a1a" stroke-width="0.18" >7.8</text>
<text x="49.0" y="175.2" font-size="11.60" text-anchor="start" font-weight="normal" font-style="normal" fill="#1a1a1a" stroke="#1a1a1a" stroke-width="0.18" >3.9</text>
<text x="50.0" y="210.0" font-size="11.60" text-anchor="start" font-weight="normal" font-style="normal" fill="#1a1a1a" stroke="#1a1a1a" stroke-width="0.18" >3.0</text>
<text x="49.3" y="266.0" font-size="11.60" text-anchor="start" font-weight="normal" font-style="normal" fill="#1a1a1a" stroke="#1a1a1a" stroke-width="0.18" >1.5</text>
<text x="263.3" y="110.0" font-size="11.60" text-anchor="start" font-weight="normal" font-style="normal" fill="#1a1a1a" stroke="#1a1a1a" stroke-width="0.18" >5.3</text>
<text x="263.3" y="141.0" font-size="11.60" text-anchor="start" font-weight="normal" font-style="normal" fill="#1a1a1a" stroke="#1a1a1a" stroke-width="0.18" >4.5</text>
<text x="266.0" y="179.5" font-size="11.60" text-anchor="start" font-weight="normal" font-style="normal" fill="#1a1a1a" stroke="#1a1a1a" stroke-width="0.18" >2.3</text>
<text x="266.7" y="220.0" font-size="11.60" text-anchor="start" font-weight="normal" font-style="normal" fill="#1a1a1a" stroke="#1a1a1a" stroke-width="0.18" >1.4</text>
<text x="266.7" y="265.0" font-size="11.60" text-anchor="start" font-weight="normal" font-style="normal" fill="#1a1a1a" stroke="#1a1a1a" stroke-width="0.18" >0.6</text>
<text x="495.7" y="106.7" font-size="11.60" text-anchor="start" font-weight="normal" font-style="normal" fill="#1a1a1a" stroke="#1a1a1a" stroke-width="0.18" >9.1</text>
<text x="496.7" y="150.0" font-size="11.60" text-anchor="start" font-weight="normal" font-style="normal" fill="#1a1a1a" stroke="#1a1a1a" stroke-width="0.18" >5.7</text>
<text x="496.7" y="195.0" font-size="11.60" text-anchor="start" font-weight="normal" font-style="normal" fill="#1a1a1a" stroke="#1a1a1a" stroke-width="0.18" >4.0</text>
<text x="498.3" y="231.6" font-size="11.60" text-anchor="start" font-weight="normal" font-style="normal" fill="#1a1a1a" stroke="#1a1a1a" stroke-width="0.18" >1.4</text>
<text x="496.5" y="269.3" font-size="11.60" text-anchor="start" font-weight="normal" font-style="normal" fill="#1a1a1a" stroke="#1a1a1a" stroke-width="0.18" >0.9</text>
<text x="224.4" y="313.7" font-size="12.90" text-anchor="start" font-weight="normal" font-style="normal" fill="#1a1a1a" stroke="#1a1a1a" stroke-width="0.18" >pristine</text>
<text x="452.4" y="310.5" font-size="12.90" text-anchor="start" font-weight="normal" font-style="normal" fill="#1a1a1a" stroke="#1a1a1a" stroke-width="0.18" >pristine</text>
<text x="55.0" y="365.2" font-size="10.60" text-anchor="middle" font-weight="normal" font-style="normal" fill="#1a1a1a" stroke="#1a1a1a" stroke-width="0.18" >404</text>
<text x="276.2" y="365.2" font-size="10.60" text-anchor="middle" font-weight="normal" font-style="normal" fill="#1a1a1a" stroke="#1a1a1a" stroke-width="0.18" >404</text>
<text x="501.3" y="365.2" font-size="10.60" text-anchor="middle" font-weight="normal" font-style="normal" fill="#1a1a1a" stroke="#1a1a1a" stroke-width="0.18" >404</text>
<text x="89.5" y="365.2" font-size="10.60" text-anchor="middle" font-weight="normal" font-style="normal" fill="#1a1a1a" stroke="#1a1a1a" stroke-width="0.18" >402</text>
<text x="312.8" y="365.2" font-size="10.60" text-anchor="middle" font-weight="normal" font-style="normal" fill="#1a1a1a" stroke="#1a1a1a" stroke-width="0.18" >402</text>
<text x="534.4" y="365.2" font-size="10.60" text-anchor="middle" font-weight="normal" font-style="normal" fill="#1a1a1a" stroke="#1a1a1a" stroke-width="0.18" >402</text>
<text x="124.1" y="365.2" font-size="10.60" text-anchor="middle" font-weight="normal" font-style="normal" fill="#1a1a1a" stroke="#1a1a1a" stroke-width="0.18" >400</text>
<text x="349.5" y="365.2" font-size="10.60" text-anchor="middle" font-weight="normal" font-style="normal" fill="#1a1a1a" stroke="#1a1a1a" stroke-width="0.18" >400</text>
<text x="567.5" y="365.2" font-size="10.60" text-anchor="middle" font-weight="normal" font-style="normal" fill="#1a1a1a" stroke="#1a1a1a" stroke-width="0.18" >400</text>
<text x="158.7" y="365.2" font-size="10.60" text-anchor="middle" font-weight="normal" font-style="normal" fill="#1a1a1a" stroke="#1a1a1a" stroke-width="0.18" >398</text>
<text x="386.1" y="365.2" font-size="10.60" text-anchor="middle" font-weight="normal" font-style="normal" fill="#1a1a1a" stroke="#1a1a1a" stroke-width="0.18" >398</text>
<text x="600.5" y="365.2" font-size="10.60" text-anchor="middle" font-weight="normal" font-style="normal" fill="#1a1a1a" stroke="#1a1a1a" stroke-width="0.18" >398</text>
<text x="193.2" y="365.2" font-size="10.60" text-anchor="middle" font-weight="normal" font-style="normal" fill="#1a1a1a" stroke="#1a1a1a" stroke-width="0.18" >396</text>
<text x="422.8" y="365.2" font-size="10.60" text-anchor="middle" font-weight="normal" font-style="normal" fill="#1a1a1a" stroke="#1a1a1a" stroke-width="0.18" >396</text>
<text x="633.6" y="365.2" font-size="10.60" text-anchor="middle" font-weight="normal" font-style="normal" fill="#1a1a1a" stroke="#1a1a1a" stroke-width="0.18" >396</text>
<text x="127.0" y="386.0" font-size="13.05" text-anchor="middle" font-weight="normal" font-style="normal" fill="#1a1a1a" stroke="#1a1a1a" stroke-width="0.18" >Binding energy (eV)</text>
<text x="358.2" y="386.0" font-size="13.05" text-anchor="middle" font-weight="normal" font-style="normal" fill="#1a1a1a" stroke="#1a1a1a" stroke-width="0.18" >Binding energy (eV)</text>
<text x="583.6" y="386.0" font-size="13.05" text-anchor="middle" font-weight="normal" font-style="normal" fill="#1a1a1a" stroke="#1a1a1a" stroke-width="0.18" >Binding energy (eV)</text>
<text x="0.0" y="0.0" font-size="13.05" text-anchor="middle" font-weight="normal" font-style="normal" fill="#1a1a1a" stroke="#1a1a1a" stroke-width="0.18" transform="translate(10.9,185.7) rotate(-90)">Photoemission intensity</text>
<circle cx="196.4" cy="50.0" r="16.4" fill="url(#sg)" stroke="#a8a8a8" stroke-width="0.8"/><text x="196.4" y="57.2" font-size="20.00" text-anchor="middle" font-weight="bold" font-style="normal" fill="#0a0a0a" stroke="#0a0a0a" stroke-width="0.18" >Li</text>
<circle cx="423.3" cy="49.8" r="21.3" fill="url(#sg)" stroke="#a8a8a8" stroke-width="0.8"/><text x="423.3" y="57.0" font-size="20.00" text-anchor="middle" font-weight="bold" font-style="normal" fill="#0a0a0a" stroke="#0a0a0a" stroke-width="0.18" >Na</text>
<circle cx="652.4" cy="50.0" r="26.0" fill="url(#sg)" stroke="#a8a8a8" stroke-width="0.8"/><text x="652.4" y="57.2" font-size="20.00" text-anchor="middle" font-weight="bold" font-style="normal" fill="#0a0a0a" stroke="#0a0a0a" stroke-width="0.18" >K</text>
</svg></body></html>
